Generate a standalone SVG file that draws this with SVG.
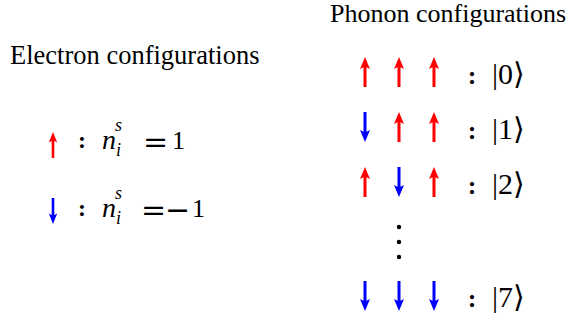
<svg xmlns="http://www.w3.org/2000/svg" xmlns:xlink="http://www.w3.org/1999/xlink" width="572" height="320" viewBox="0 0 572 320">
  <style>
    .title { font-family: "Liberation Serif", "DejaVu Serif", serif; font-size: 26.5px; fill: #000; }
    .math { font-family: "Liberation Serif", "DejaVu Serif", serif; font-size: 26px; fill: #000; }
    .mi { font-style: italic; font-size: 28px; }
    .sc { font-size: 18px; }
    .rel { font-family: "DejaVu Serif", serif; font-size: 30px; }
    .ket { font-family: "Liberation Serif", "DejaVu Serif", serif; font-size: 30px; fill: #000; }
    .colon { font-family: "Liberation Serif", "DejaVu Serif", serif; font-size: 26px; font-weight: bold; fill: #000; text-anchor: middle; }
    .red { fill: #ff0000; }
    .blue { fill: #0000ff; }
  </style>
  <defs>
    <path id="up" d="M0 0 L5 12 L1.5 10.2 V30 H-1.5 V10.2 L-5 12 Z"/>
    <path id="up-s" d="M0 0 L4.2 10.5 L1.3 9 V26 H-1.3 V9 L-4.2 10.5 Z"/>
  </defs>

  <g id="electron-title">
    <text class="title" x="10" y="64">Electron configurations</text>
  </g>

  <g id="electron-up">
    <use xlink:href="#up-s" class="red" transform="translate(53,132)"/>
    <text class="colon" x="82" y="148" style="font-size:24px">:</text>
    <text class="math" x="102" y="149"><tspan class="mi">n</tspan><tspan class="mi sc" dx="-1" dy="-18">s</tspan><tspan class="mi sc" dx="-6" dy="25">i</tspan></text>
    <text class="math rel" x="143" y="152">=</text>
    <text class="math" x="172" y="149">1</text>
  </g>

  <g id="electron-down">
    <use xlink:href="#up-s" class="blue" transform="translate(53,224) rotate(180)"/>
    <text class="colon" x="82" y="216" style="font-size:24px">:</text>
    <text class="math" x="102" y="217"><tspan class="mi">n</tspan><tspan class="mi sc" dx="-1" dy="-18">s</tspan><tspan class="mi sc" dx="-6" dy="25">i</tspan></text>
    <text class="math rel" x="141" y="220">=</text>
    <text class="math rel" x="165" y="220">−</text>
    <text class="math" x="192" y="217">1</text>
  </g>

  <g id="phonon-title">
    <text class="title" x="330" y="22" style="font-size:26px">Phonon configurations</text>
  </g>

  <g id="phonon-0">
    <use xlink:href="#up" class="red" transform="translate(365,57)"/>
    <use xlink:href="#up" class="red" transform="translate(399,57)"/>
    <use xlink:href="#up" class="red" transform="translate(434,57)"/>
    <text class="colon" x="472" y="84">:</text>
    <text class="ket" x="492" y="84">|0⟩</text>
  </g>

  <g id="phonon-1">
    <use xlink:href="#up" class="blue" transform="translate(365,142) rotate(180)"/>
    <use xlink:href="#up" class="red" transform="translate(399,112)"/>
    <use xlink:href="#up" class="red" transform="translate(434,112)"/>
    <text class="colon" x="472" y="139">:</text>
    <text class="ket" x="492" y="139">|1⟩</text>
  </g>

  <g id="phonon-2">
    <use xlink:href="#up" class="red" transform="translate(365,167)"/>
    <use xlink:href="#up" class="blue" transform="translate(399,197) rotate(180)"/>
    <use xlink:href="#up" class="red" transform="translate(434,167)"/>
    <text class="colon" x="472" y="194">:</text>
    <text class="ket" x="492" y="194">|2⟩</text>
  </g>

  <g id="phonon-vdots">
    <circle cx="399" cy="227" r="2.2"/>
    <circle cx="399" cy="242" r="2.2"/>
    <circle cx="399" cy="257" r="2.2"/>
  </g>

  <g id="phonon-7">
    <use xlink:href="#up" class="blue" transform="translate(365,311) rotate(180)"/>
    <use xlink:href="#up" class="blue" transform="translate(399,311) rotate(180)"/>
    <use xlink:href="#up" class="blue" transform="translate(434,311) rotate(180)"/>
    <text class="colon" x="472" y="307">:</text>
    <text class="ket" x="492" y="307">|7⟩</text>
  </g>

  <g id="connectors"/>
</svg>
